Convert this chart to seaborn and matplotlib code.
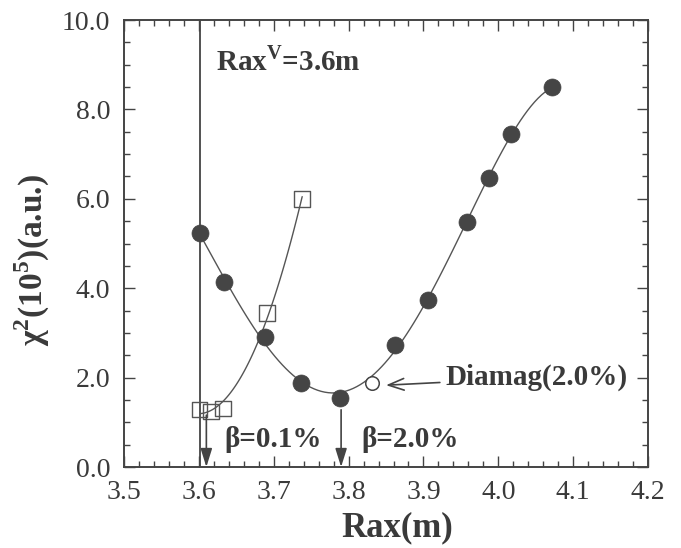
import seaborn as sns
import matplotlib.pyplot as plt
from matplotlib.ticker import MultipleLocator, FormatStrFormatter

# chi^2 scan vs magnetic axis position, beta = 2.0% (filled circles)
rax_b20 = [3.602, 3.633, 3.689, 3.737, 3.788, 3.862, 3.906, 3.958, 3.987, 4.017, 4.072]
chi2_b20 = [5.23, 4.13, 2.90, 1.87, 1.54, 2.74, 3.74, 5.47, 6.47, 7.44, 8.49]

# beta = 0.1% (open squares)
rax_b01 = [3.601, 3.616, 3.632, 3.691, 3.738]
chi2_b01 = [1.29, 1.24, 1.31, 3.45, 6.00]

# diamagnetic estimate (open circle)
rax_dia = [3.831]
chi2_dia = [1.87]

rax_vacuum = 3.601
beta_labels = ["β=0.1%", "β=2.0%"]
beta_rax = [3.610, 3.790]

ink = "#3a3a3a"

sns.set_style("ticks")
plt.rcParams["font.family"] = ["Liberation Serif", "DejaVu Serif"]
plt.rcParams["mathtext.fontset"] = "custom"
plt.rcParams["mathtext.rm"] = "Liberation Serif"
plt.rcParams["mathtext.bf"] = "Liberation Serif:bold"
plt.rcParams["text.color"] = ink
plt.rcParams["axes.labelcolor"] = ink

fig = plt.figure(figsize=(6.81, 5.48), dpi=100)
ax = fig.add_axes([0.1821, 0.1478, 0.7695, 0.8157])

# smooth curves through the two scans
sns.regplot(x=rax_b20, y=chi2_b20, order=4, ci=None, scatter=False,
            line_kws=dict(color="#555555", lw=1.0, zorder=2), ax=ax)
sns.regplot(x=rax_b01, y=chi2_b01, order=2, ci=None, scatter=False,
            line_kws=dict(color="#555555", lw=1.0, zorder=2), ax=ax)

sns.scatterplot(x=rax_b20, y=chi2_b20, marker="o", s=150, color="#454545",
                edgecolor="#454545", linewidth=0.5, zorder=4, ax=ax)
sns.scatterplot(x=rax_b01, y=chi2_b01, marker="s", s=125, facecolor="none",
                edgecolor="#555555", linewidth=1.0, zorder=3, ax=ax)
sns.scatterplot(x=rax_dia, y=chi2_dia, marker="o", s=95, facecolor="white",
                edgecolor="#444444", linewidth=1.1, zorder=4, ax=ax)

ax.axvline(rax_vacuum, color="#444444", lw=1.3, zorder=1)

# arrows marking the minima
for lab, xb, y0 in zip(beta_labels, beta_rax, [1.16, 1.28]):
    ax.annotate("", xy=(xb, 0.0), xytext=(xb, y0),
                arrowprops=dict(arrowstyle="-|>,head_length=0.8,head_width=0.25",
                                color="#444444", lw=1.2, shrinkA=0, shrinkB=0,
                                mutation_scale=14))
ax.text(3.634, 0.45, beta_labels[0], fontsize=21, fontweight="bold")
ax.text(3.817, 0.45, beta_labels[1], fontsize=21, fontweight="bold")

ax.annotate("Diamag(2.0%)", xy=(3.850, 1.83), xytext=(3.930, 2.0),
            fontsize=21, fontweight="bold", va="center", ha="left",
            arrowprops=dict(arrowstyle="->,head_length=0.8,head_width=0.3",
                            color="#444444", lw=1.2, shrinkA=2, shrinkB=0,
                            mutation_scale=14))

ax.text(3.623, 8.88, r"Rax$^{\mathbf{V}}$=3.6m", fontsize=21, fontweight="bold")

ax.set_xlim(3.5, 4.2)
ax.set_ylim(0.0, 10.0)
ax.xaxis.set_major_locator(MultipleLocator(0.1))
ax.xaxis.set_minor_locator(MultipleLocator(0.02))
ax.yaxis.set_major_locator(MultipleLocator(2.0))
ax.yaxis.set_minor_locator(MultipleLocator(0.5))
ax.xaxis.set_major_formatter(FormatStrFormatter("%.1f"))
ax.yaxis.set_major_formatter(FormatStrFormatter("%.1f"))
ax.tick_params(which="both", direction="in", top=True, right=True,
               labelsize=20, colors="#444444", labelcolor=ink, width=1.0)
ax.tick_params(which="major", length=8)
ax.tick_params(which="minor", length=4.5)
ax.tick_params(axis="x", which="major", pad=9)
ax.tick_params(axis="y", which="major", pad=10)
for sp in ax.spines.values():
    sp.set_visible(True)
    sp.set_linewidth(1.4)
    sp.set_color("#444444")

ax.set_xlabel("Rax(m)", fontsize=25, fontweight="bold")
ax.set_ylabel(r"χ$^{\mathbf{2}}$(10$^{\mathbf{5}}$)(a.u.)", fontsize=24, fontweight="bold")
ax.xaxis.set_label_coords(0.521, -0.10)
ax.yaxis.set_label_coords(-0.137, 0.463)

fig.savefig("out.png", dpi=100)
